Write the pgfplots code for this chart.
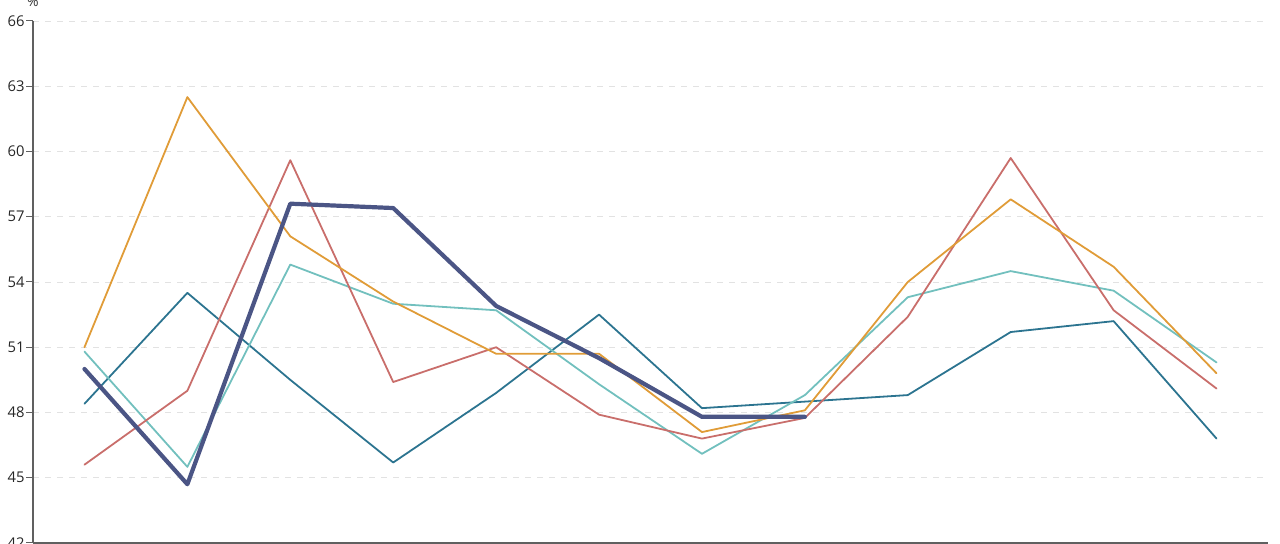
\documentclass[border=0pt]{standalone}
\usepackage{pgfplots}
\pgfplotsset{compat=1.18}
\usepackage{fontspec}
\setmainfont{Open Sans}
\definecolor{cOr}{HTML}{E09C38}
\definecolor{cRd}{HTML}{C96E6B}
\definecolor{cLt}{HTML}{72C0BE}
\definecolor{cDt}{HTML}{2C7490}
\definecolor{cNv}{HTML}{4B5585}
\definecolor{cAx}{HTML}{606060}
\definecolor{cGr}{HTML}{E2E2E2}
\begin{document}
\begin{tikzpicture}
\begin{axis}[
  name=ax,
  scale only axis,
  width=617.5pt, height=261pt,
  xmin=-0.5, xmax=11.5,
  ymin=42, ymax=66,
  ytick={42,45,...,66},
  xtick=\empty,
  axis x line*=bottom, axis y line*=left,
  x axis line style={-, cAx, line width=0.6pt},
  y axis line style={-, cAx, line width=0.6pt},
  tick align=outside,
  major tick length=3.5pt,
  ytick style={cAx, line width=0.5pt},
  ymajorgrids,
  grid style={cGr, dashed, line width=0.4pt},
  tick label style={font=\fontsize{7.4}{9}\selectfont, text=black!85},
  yticklabel style={inner sep=0.5pt},
  /pgf/number format/assume math mode=true,
  clip=false,
  every axis plot/.append style={line join=round, line cap=round},
]
\addplot[cDt, line width=0.9pt] coordinates {(0,48.4)(1,53.5)(2,49.5)(3,45.7)(4,48.9)(5,52.5)(6,48.2)(7,48.5)(8,48.8)(9,51.7)(10,52.2)(11,46.8)};
\addplot[cLt, line width=0.9pt] coordinates {(0,50.8)(1,45.5)(2,54.8)(3,53.0)(4,52.7)(5,49.3)(6,46.1)(7,48.8)(8,53.3)(9,54.5)(10,53.6)(11,50.3)};
\addplot[cRd, line width=0.9pt] coordinates {(0,45.6)(1,49.0)(2,59.6)(3,49.4)(4,51.0)(5,47.9)(6,46.8)(7,47.75)(8,52.4)(9,59.7)(10,52.7)(11,49.1)};
\addplot[cOr, line width=0.9pt] coordinates {(0,51.0)(1,62.5)(2,56.1)(3,53.1)(4,50.7)(5,50.7)(6,47.1)(7,48.1)(8,54.0)(9,57.8)(10,54.7)(11,49.8)};
\addplot[cNv, line width=2.1pt] coordinates {(0,50.0)(1,44.7)(2,57.6)(3,57.4)(4,52.9)(5,50.5)(6,47.8)(7,47.8)};
\node[anchor=base, inner sep=0pt, font=\fontsize{7}{8}\selectfont, text=black!80] at ([yshift=7pt]rel axis cs:0,1) {\%};
\end{axis}
\pgfresetboundingbox
\path[use as bounding box] ([xshift=-16.5pt,yshift=-0.5pt]ax.south west) rectangle ([xshift=6pt,yshift=10.5pt]ax.north east);
\end{tikzpicture}
\end{document}
